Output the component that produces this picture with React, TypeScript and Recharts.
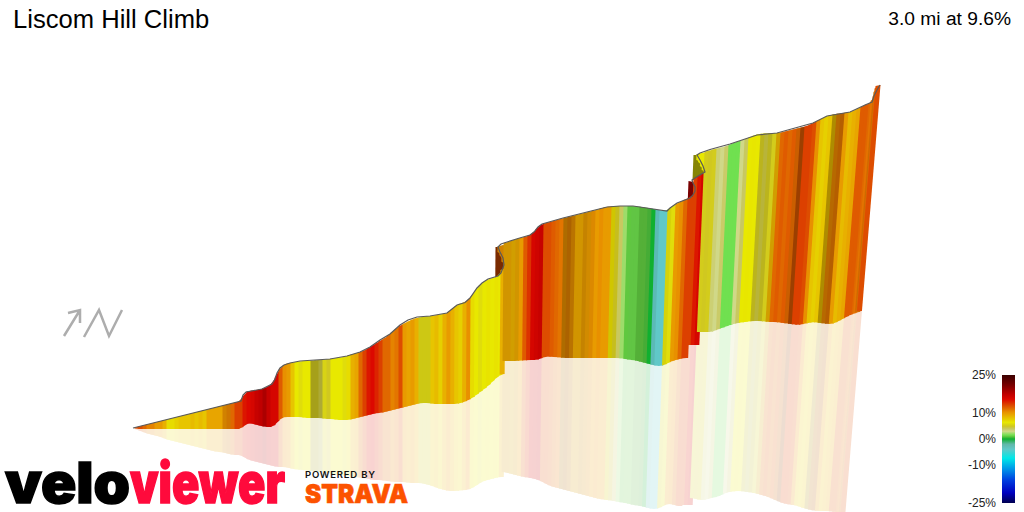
import React from "react";
import { ComposedChart, Bar, Line, XAxis, YAxis } from "recharts";

// Stripes are listed back to front: fold walls first, then the climb in route order.
// Heights are projected heights above the bottom of the view.
const STRIPE_X = [
  498, 500, 502, 504, 691, 693, 696, 698, 700, 702, 704,
  133, 137, 141, 145, 149, 153, 157, 161, 165, 169, 173, 177, 181, 185, 189, 193, 197, 201, 205, 209, 213, 217, 221, 225, 229, 233, 237, 241,
  245, 249, 253, 257, 261, 265, 269, 273, 277, 281,
  285, 289, 293, 297, 301, 305, 309, 313, 317, 321, 325, 329, 333, 337, 341, 345, 349, 353, 357, 361, 365, 369, 373, 377, 381, 385, 389, 393, 397,
  401, 405, 409, 413, 417, 421, 425, 429, 433, 437, 441, 445, 449, 453, 457, 461, 465, 469, 473, 477, 481, 485, 489, 493, 497, 501, 503,
  500, 502, 504,
  506, 510, 514, 518, 522, 526, 530, 534, 538, 542, 546, 550, 554, 558, 562, 566, 570, 574, 578, 582,
  586, 590, 594, 598, 602, 606, 610, 614, 618, 622, 626, 630, 634, 638, 642, 646, 650, 654, 658, 662,
  666, 670, 674, 678, 682, 686, 690, 692,
  696, 700, 704,
  699, 701, 703, 705,
  707, 711, 715, 719, 723, 727, 731, 735, 739, 743, 747, 751, 755, 759, 763, 767, 771, 775, 779, 783,
  787, 791, 795, 799, 803, 807, 811, 815, 819, 823, 827, 831, 835, 839, 843, 847, 851, 855, 859, 863,
  867, 871, 873, 875, 876, 877, 878,
];

const RIDGE = [
  265, 265, 265, 265, 331, 329, 357, 357, 357, 357, 357,
  84, 85, 86, 87, 88, 89, 90, 91, 92, 93, 94, 95, 96, 97, 98, 99, 100, 101, 102, 103, 104, 105, 106, 107, 108, 109, 110, 111,
  120, 121, 121.5, 122, 123, 124, 126, 129, 139, 145,
  148, 149, 149.5, 150, 151, 151, 151, 151.5, 152, 152, 152.5, 153, 153.5, 154, 155, 155, 157, 158, 159, 160, 162, 164, 167, 169, 172, 174, 177, 181, 184,
  187, 189, 191, 193, 194, 195, 195.5, 196, 196, 197, 198, 198, 200, 204, 207, 209, 209.5, 213, 218, 224, 228, 231, 233, 234, 235, 240, 244,
  265.5, 266.5, 267,
  269, 271, 272, 273.5, 274.5, 275.5, 277, 280, 285, 288, 289, 290, 291, 292.5, 293.5, 294.5, 295.5, 296.5, 297.5, 298.5,
  299.5, 300.5, 301.5, 302.5, 304, 305, 305.5, 306, 306, 306, 306, 306, 306, 305.5, 305, 304.5, 303.5, 303, 302, 301.5,
  301, 304, 307, 309, 311, 313, 314.5, 316,
  334, 336.5, 339,
  358, 358.5, 359, 359.5,
  360.5, 362, 363, 364, 365, 366, 368, 369.5, 371, 372, 373.5, 375.5, 377, 378, 378.5, 379, 379, 379, 379, 380,
  381, 382, 383, 384, 385, 386, 388, 390, 392, 394, 396, 397, 398, 398.5, 399, 399.5, 400, 402, 404, 406,
  408, 409, 413, 418, 422, 425, 427,
];

const GROUND = [
  232, 232, 232, 232, 312, 312, 332, 332, 332, 332, 332,
  84, 83, 83, 83, 83, 83, 83, 83, 83, 83, 83, 83, 83, 83, 83, 83, 83, 83, 83, 83, 83, 83, 83, 83, 83, 83, 83, 83,
  87, 89, 88, 87, 86, 85, 85, 85, 89, 94,
  95, 95, 95, 95, 95, 94, 94, 94, 94, 94, 93, 93, 93, 92, 92, 92, 92, 93, 94, 95, 96, 97, 98, 99, 99, 100, 101, 102, 103,
  104, 105, 106, 107, 108, 109, 109, 109, 108, 108, 108, 108, 108, 108, 108, 109, 110, 112, 114, 117, 120, 123, 126, 130, 134, 137, 138,
  260, 254, 247,
  151, 151, 151, 151, 151.5, 151.5, 152, 152, 152, 153, 155, 155.5, 155, 155, 154.5, 154, 154, 154, 154, 154,
  154, 154, 154, 154, 154, 154, 154, 154, 154, 154, 153.5, 153, 152, 152, 151, 150, 149, 148, 147, 146,
  146, 147, 149, 151, 152, 153, 154, 154,
  167, 167, 167,
  352, 348, 344, 340,
  180, 180, 180, 180, 181, 183, 184, 185.5, 187, 188, 189, 189.5, 190, 190.5, 191, 191, 191, 190.5, 190, 190,
  190, 189.5, 189, 188.5, 188, 187.5, 187, 187.5, 188.5, 189, 190, 189.5, 189, 188.5, 188, 188, 189, 191, 193, 195,
  197, 198.5, 199.5, 200, 200, 201, 201,
];

const MIRROR = [
  232, 232, 232, 232, 312, 312, 332, 332, 332, 332, 332,
  84, 82, 81, 79, 78, 77, 76, 75, 73, 72, 71, 70, 69, 68, 67, 66, 65, 64, 63, 62, 61, 60, 60, 59, 58, 57, 57, 57,
  54, 52, 51, 50, 49, 48, 47, 46, 45, 45,
  45, 44, 43, 42.5, 42, 42, 41, 41, 40, 40, 39, 39, 38, 37, 37, 36, 36, 35, 35, 34, 34, 33, 32, 32, 32, 31, 31, 30, 30,
  30, 30, 29, 29, 29, 29, 28, 27, 26, 24, 23, 22, 21, 21, 21, 21.5, 22, 22, 24, 26, 29, 31, 32, 33, 34, 35, 35,
  260, 254, 247,
  40, 39, 38, 37, 36, 35, 34.5, 34, 33, 32, 30, 28, 26, 25, 24, 23, 22, 21, 20, 19,
  18, 17, 16, 15, 14, 13, 12.5, 12, 11.5, 11, 10, 9.5, 9, 8, 7, 6.5, 6, 5, 4, 3,
  3, 4, 6, 8, 8, 7, 6, 6,
  7, 7, 7,
  352, 348, 344, 340,
  14, 13, 12, 12, 12.5, 14, 14.5, 15.5, 17, 19, 20, 20.5, 21, 21, 20.5, 20, 19.5, 19, 18, 17,
  16, 15, 13, 12, 10, 9, 8, 7.5, 7, 6.5, 5, 4, 3, 2, 1.5, 1, 1, 1, 1, 0.5,
  0, 0, 0, 0, 0, 0, 0,
];

const GRADE = [
  13, 13, 13, 13, 19, 19, 6, 6, 6, 6, 6,
  14, 13, 13, 12, 11, 11, 10, 10, 9, 7, 7, 7.5, 8, 8, 8, 8.5, 8, 8.5, 8, 9.5, 9.5, 9.5, 9.5, 10.5, 11, 12, 13.5, 13.5,
  15, 15.5, 16, 17, 17.5, 18.5, 17, 16, 16, 12.5,
  10.5, 10, 8, 6.5, 6, 6.5, 6.5, 5, 5, 4.5, 5.5, 5, 6.5, 6.5, 6.5, 6, 7, 9, 9.5, 12, 13.5, 15, 15.5, 14.5, 13.5, 12, 12, 11, 11.5,
  13, 10, 9.5, 10, 9, 5.5, 5.5, 5.5, 8, 8.5, 7.5, 9, 10, 9, 8, 7.5, 9, 10.5, 7, 6.5, 6, 6.5, 6.7, 6.5, 6.7, 6.5, 9,
  10.5, 10.5, 10.5,
  9.5, 9.5, 9, 9.5, 10, 12.5, 14, 16, 16.5, 17, 13, 13, 12.5, 12, 11.5, 10.5, 11, 10.5, 9.5, 9.5,
  10, 10, 10.5, 10, 10.5, 10, 10, 7, 5, 4, 2.2, 1, 1.3, 1.3, 1, 1, 0.8, 0, -3.5, -4,
  -4, 6, 6, 10, 10.5, 12, 13.5, 13.5,
  13.5, 15, 16,
  6.5, 6.5, 6.5, 6.5,
  5.2, 5, 5.2, 3.5, 3, 3.8, 1.5, 1.5, 1.5, 3, 4, 6.5, 6.6, 6.5, 5, 4.5, 5, 5.2, 9, 12,
  12.5, 12, 12.5, 12, 12.5, 13.5, 13.5, 13, 10.5, 8, 7.5, 8, 8.5, 11, 11.5, 10, 8.5, 9, 9.5, 12.5,
  12.5, 12, 11.5, 12, 11, 12, 13,
];

// how much light each stripe gets, 1 is full
const LIGHT = [
  0.55, 0.55, 0.55, 0.55, 0.75, 0.75, 0.6, 0.6, 0.6, 0.6, 0.6,
  1, 1, 1, 1, 1, 1, 1, 1, 1, 1, 1, 1, 1, 1, 1, 1, 1, 1, 1, 1, 1, 1, 1, 0.9, 0.9, 1, 1, 1,
  1, 1, 1, 1, 1, 1, 1, 1, 1, 1,
  1, 1, 1, 1, 1, 1, 1, 0.8, 0.8, 0.85, 1, 1, 1, 1, 1, 1, 1, 1, 1, 1, 1, 1, 1, 1, 1, 1, 1, 1, 1,
  1, 1, 1, 1, 1, 0.95, 0.95, 0.95, 1, 1, 1, 1, 1, 1, 1, 1, 1, 1, 1, 1, 1, 1, 1, 1, 1, 1, 1,
  0.9, 0.9, 0.9,
  0.9, 0.9, 0.9, 0.9, 1, 1, 1, 1, 1, 1, 1, 1, 1, 1, 1, 0.75, 0.75, 0.8, 0.9, 0.9,
  0.85, 0.9, 0.95, 1, 1, 1, 1, 0.9, 0.95, 1, 1, 1, 0.92, 0.92, 0.88, 0.88, 0.88, 1, 0.95, 1,
  1, 0.95, 1, 1, 1, 1, 1, 1,
  1, 1, 1,
  1, 1, 1, 1,
  1, 1, 1, 1, 1, 1, 1, 1, 1, 1, 1, 1, 1, 1, 0.9, 0.9, 0.9, 1, 0.9, 1,
  1, 1, 1, 0.9, 0.7, 1, 1, 1, 1, 1, 1, 1, 0.75, 0.8, 0.8, 1, 1, 1, 1, 1,
  1, 1, 1, 1, 0.85, 1, 1,
];

// dark line along the top of the ribbon, in route order
const OUTLINE_X = [
  133, 241, 243, 246, 262, 272, 275, 277, 280, 284, 290, 300, 330, 347, 360, 370, 380, 390, 400, 408, 417, 430, 447, 452, 457, 465, 470, 477, 482, 488,
  498, 501, 504, 503, 500, 498, 501, 507, 518, 530, 534, 538, 542, 563, 607, 620, 633, 650, 667, 670, 677, 690, 693, 695, 695, 693, 692, 698, 705, 703,
  700, 697, 700, 710, 730, 757, 777, 813, 827, 850, 865, 872, 874, 877, 880,
];
const OUTLINE_H = [
  84, 111, 117, 120, 123, 128, 133, 139, 144, 147, 149, 151, 153, 156, 160, 165, 172, 178, 187, 192, 195, 196, 199, 203, 207, 209.5, 214, 224, 229, 233,
  236, 239, 247, 254, 260, 265, 268, 270, 273.5, 277, 280, 285, 288, 294, 305, 306, 306, 303.5, 301, 304, 309, 314, 317, 321, 325, 329, 332, 336, 340, 346,
  352, 357, 359, 362.5, 368, 377, 379, 389, 396, 400, 407, 410, 416, 422, 427,
];

const GRADE_STOPS: [number, string][] = [
  [25, "#3a0000"], [21, "#7a0000"], [17.5, "#c00000"], [15.5, "#dc0800"], [13.5, "#dc4000"], [12, "#e06800"],
  [10.5, "#e89000"], [9, "#e8b000"], [7.5, "#e6d000"], [6.5, "#e8e800"], [5, "#d0c820"], [4, "#c8c860"],
  [3, "#d0d888"], [1.5, "#70e050"], [1, "#60c840"], [0, "#10b030"], [-2, "#60b8a8"], [-4, "#60c8c8"],
  [-7.5, "#00e8e8"], [-12, "#0090e8"], [-16, "#0040e0"], [-21, "#0000c0"], [-25, "#000050"],
];
const LEGEND_TICKS = [25, 10, 0, -10, -25];

const WIDTH = 1024;
const HEIGHT = 512;
const STRIPE_WIDTH = 5;

const toRgb = (hex: string) => [1, 3, 5].map((i) => parseInt(hex.slice(i, i + 2), 16));

const gradeRgb = (grade: number) => {
  for (let i = 1; i < GRADE_STOPS.length; i++) {
    const [hi, hiColor] = GRADE_STOPS[i - 1];
    const [lo, loColor] = GRADE_STOPS[i];
    if (grade >= lo) {
      const t = (grade - lo) / (hi - lo);
      const a = toRgb(loColor);
      const b = toRgb(hiColor);
      return a.map((v, k) => v + (b[k] - v) * t);
    }
  }
  return toRgb("#000050");
};

const css = (rgb: number[]) => `rgb(${rgb.map(Math.round).join(",")})`;

// the view is turned, so stripes further along the climb lean more
const leanAt = (x: number) => (x <= 400 ? 0 : 0.08 * Math.pow((x - 400) / 470, 1.5));

// stripes next to each other on the same stretch share their edge heights
const joined = (i: number, j: number) => {
  if (j < 0 || j >= STRIPE_X.length) return false;
  const gap = Math.abs(STRIPE_X[i] - STRIPE_X[j]);
  const ordered = j > i ? STRIPE_X[j] > STRIPE_X[i] : STRIPE_X[j] < STRIPE_X[i];
  return ordered && gap <= 5 && Math.abs(RIDGE[i] - RIDGE[j]) < 12 && Math.abs(GROUND[i] - GROUND[j]) < 12;
};
const edge = (values: number[], i: number, j: number) => (joined(i, j) ? (values[j] - values[i]) / 2 : 0);

const profile = STRIPE_X.map((x, i) => {
  const rgb = gradeRgb(GRADE[i]);
  return {
    x,
    floor: MIRROR[i],
    reflection: GROUND[i] - MIRROR[i],
    wall: RIDGE[i] - GROUND[i],
    ridgeL: edge(RIDGE, i, i - 1),
    ridgeR: edge(RIDGE, i, i + 1),
    groundL: edge(GROUND, i, i - 1),
    groundR: edge(GROUND, i, i + 1),
    mirrorL: edge(MIRROR, i, i - 1),
    mirrorR: edge(MIRROR, i, i + 1),
    wallColor: css(rgb.map((v) => v * LIGHT[i])),
    mirrorColor: css(rgb.map((v) => 255 - (255 - v * LIGHT[i]) * 0.18)),
  };
});

const outline = OUTLINE_X.map((x, i) => ({ x, height: OUTLINE_H[i] }));

// the chart narrows its bars to the closest pair of x values, so only the centre is used
const WallStripe = (props: any) => {
  const { x, y, width, height, payload: p } = props;
  if (!height || height <= 0) return null;
  const left = x + width / 2 - STRIPE_WIDTH / 2;
  const right = left + STRIPE_WIDTH;
  const shift = leanAt(p.x) * height;
  const bottom = y + height;
  const pts = `${left},${y - p.ridgeL} ${right},${y - p.ridgeR} ${right - shift},${bottom - p.groundR} ${left - shift},${bottom - p.groundL}`;
  return <polygon points={pts} fill={p.wallColor} />;
};

const MirrorStripe = (props: any) => {
  const { x, y, width, height, payload: p } = props;
  if (!height || height <= 0) return null;
  const left = x + width / 2 - STRIPE_WIDTH / 2;
  const right = left + STRIPE_WIDTH;
  const lean = leanAt(p.x);
  const s0 = lean * p.wall;
  const s1 = s0 + lean * height;
  const bottom = y + height;
  const pts = `${left - s0},${y - p.groundL} ${right - s0},${y - p.groundR} ${right - s1},${bottom - p.mirrorR} ${left - s1},${bottom - p.mirrorL}`;
  return <polygon points={pts} fill={p.mirrorColor} />;
};

const legendGradient = () => {
  const stops = GRADE_STOPS.map(([g, c]) => `${c} ${((25 - g) / 50) * 100}%`);
  return `linear-gradient(to bottom, ${stops.join(", ")})`;
};

export default function App() {
  return (
    <div style={{ position: "absolute", left: 0, top: 0, width: WIDTH, height: HEIGHT, background: "#fff", overflow: "hidden", fontFamily: "'Liberation Sans', Arial, sans-serif" }}>
      <ComposedChart width={WIDTH} height={HEIGHT} data={profile} margin={{ top: 0, right: 0, bottom: 0, left: 0 }}>
        <XAxis dataKey="x" type="number" domain={[0, WIDTH]} hide />
        <YAxis type="number" domain={[0, HEIGHT]} hide width={0} />
        <Bar dataKey="floor" stackId="ribbon" fill="none" isAnimationActive={false} />
        <Bar dataKey="reflection" stackId="ribbon" shape={MirrorStripe} isAnimationActive={false} />
        <Bar dataKey="wall" stackId="ribbon" shape={WallStripe} isAnimationActive={false} />
        <Line data={outline} dataKey="height" type="linear" stroke="#5a5a5a" strokeWidth={1.2} dot={false} isAnimationActive={false} />
      </ComposedChart>

      <div style={{ position: "absolute", left: 13, top: 5, fontSize: 25.6, color: "#000", whiteSpace: "nowrap" }}>Liscom Hill Climb</div>
      <div style={{ position: "absolute", right: 13, top: 8, fontSize: 19.2, color: "#000", whiteSpace: "nowrap" }}>3.0 mi at 9.6%</div>

      <div style={{ position: "absolute", left: 1002, top: 375, width: 13, height: 128, background: legendGradient() }} />
      {LEGEND_TICKS.map((g) => (
        <div key={g} style={{ position: "absolute", right: 28, top: 375 + ((25 - g) / 50) * 128 - 7, fontSize: 12, lineHeight: "14px", color: "#222" }}>
          {g}%
        </div>
      ))}

      <svg width={WIDTH} height={HEIGHT} style={{ position: "absolute", left: 0, top: 0 }}>
        <g fill="none" stroke="#adadad" strokeWidth={2.5}>
          <path d="M64 336 L80 310 M68 313 L80 310 L80 323" />
          <path d="M84 337 L99 310 L109 336 L122 310" />
        </g>
        <text x={5} y={503} fontFamily="Inter" fontWeight={900} fontSize={56} fill="#000" stroke="#000" strokeWidth={1.5} textLength={125} lengthAdjust="spacingAndGlyphs">velo</text>
        <text x={130} y={503} fontFamily="Inter" fontWeight={900} fontSize={56} fill="#ff0a3c" stroke="#ff0a3c" strokeWidth={1.5} textLength={155} lengthAdjust="spacingAndGlyphs">viewer</text>
        <text x={305} y={478} fontFamily="Inter" fontWeight={600} fontSize={9.5} fill="#111" textLength={70}>POWERED BY</text>
        <text x={305} y={503} fontFamily="Inter" fontWeight={900} fontSize={26} fill="#fc5200" stroke="#fc5200" strokeWidth={0.6} textLength={103} lengthAdjust="spacingAndGlyphs">STRAVA</text>
      </svg>
    </div>
  );
}
